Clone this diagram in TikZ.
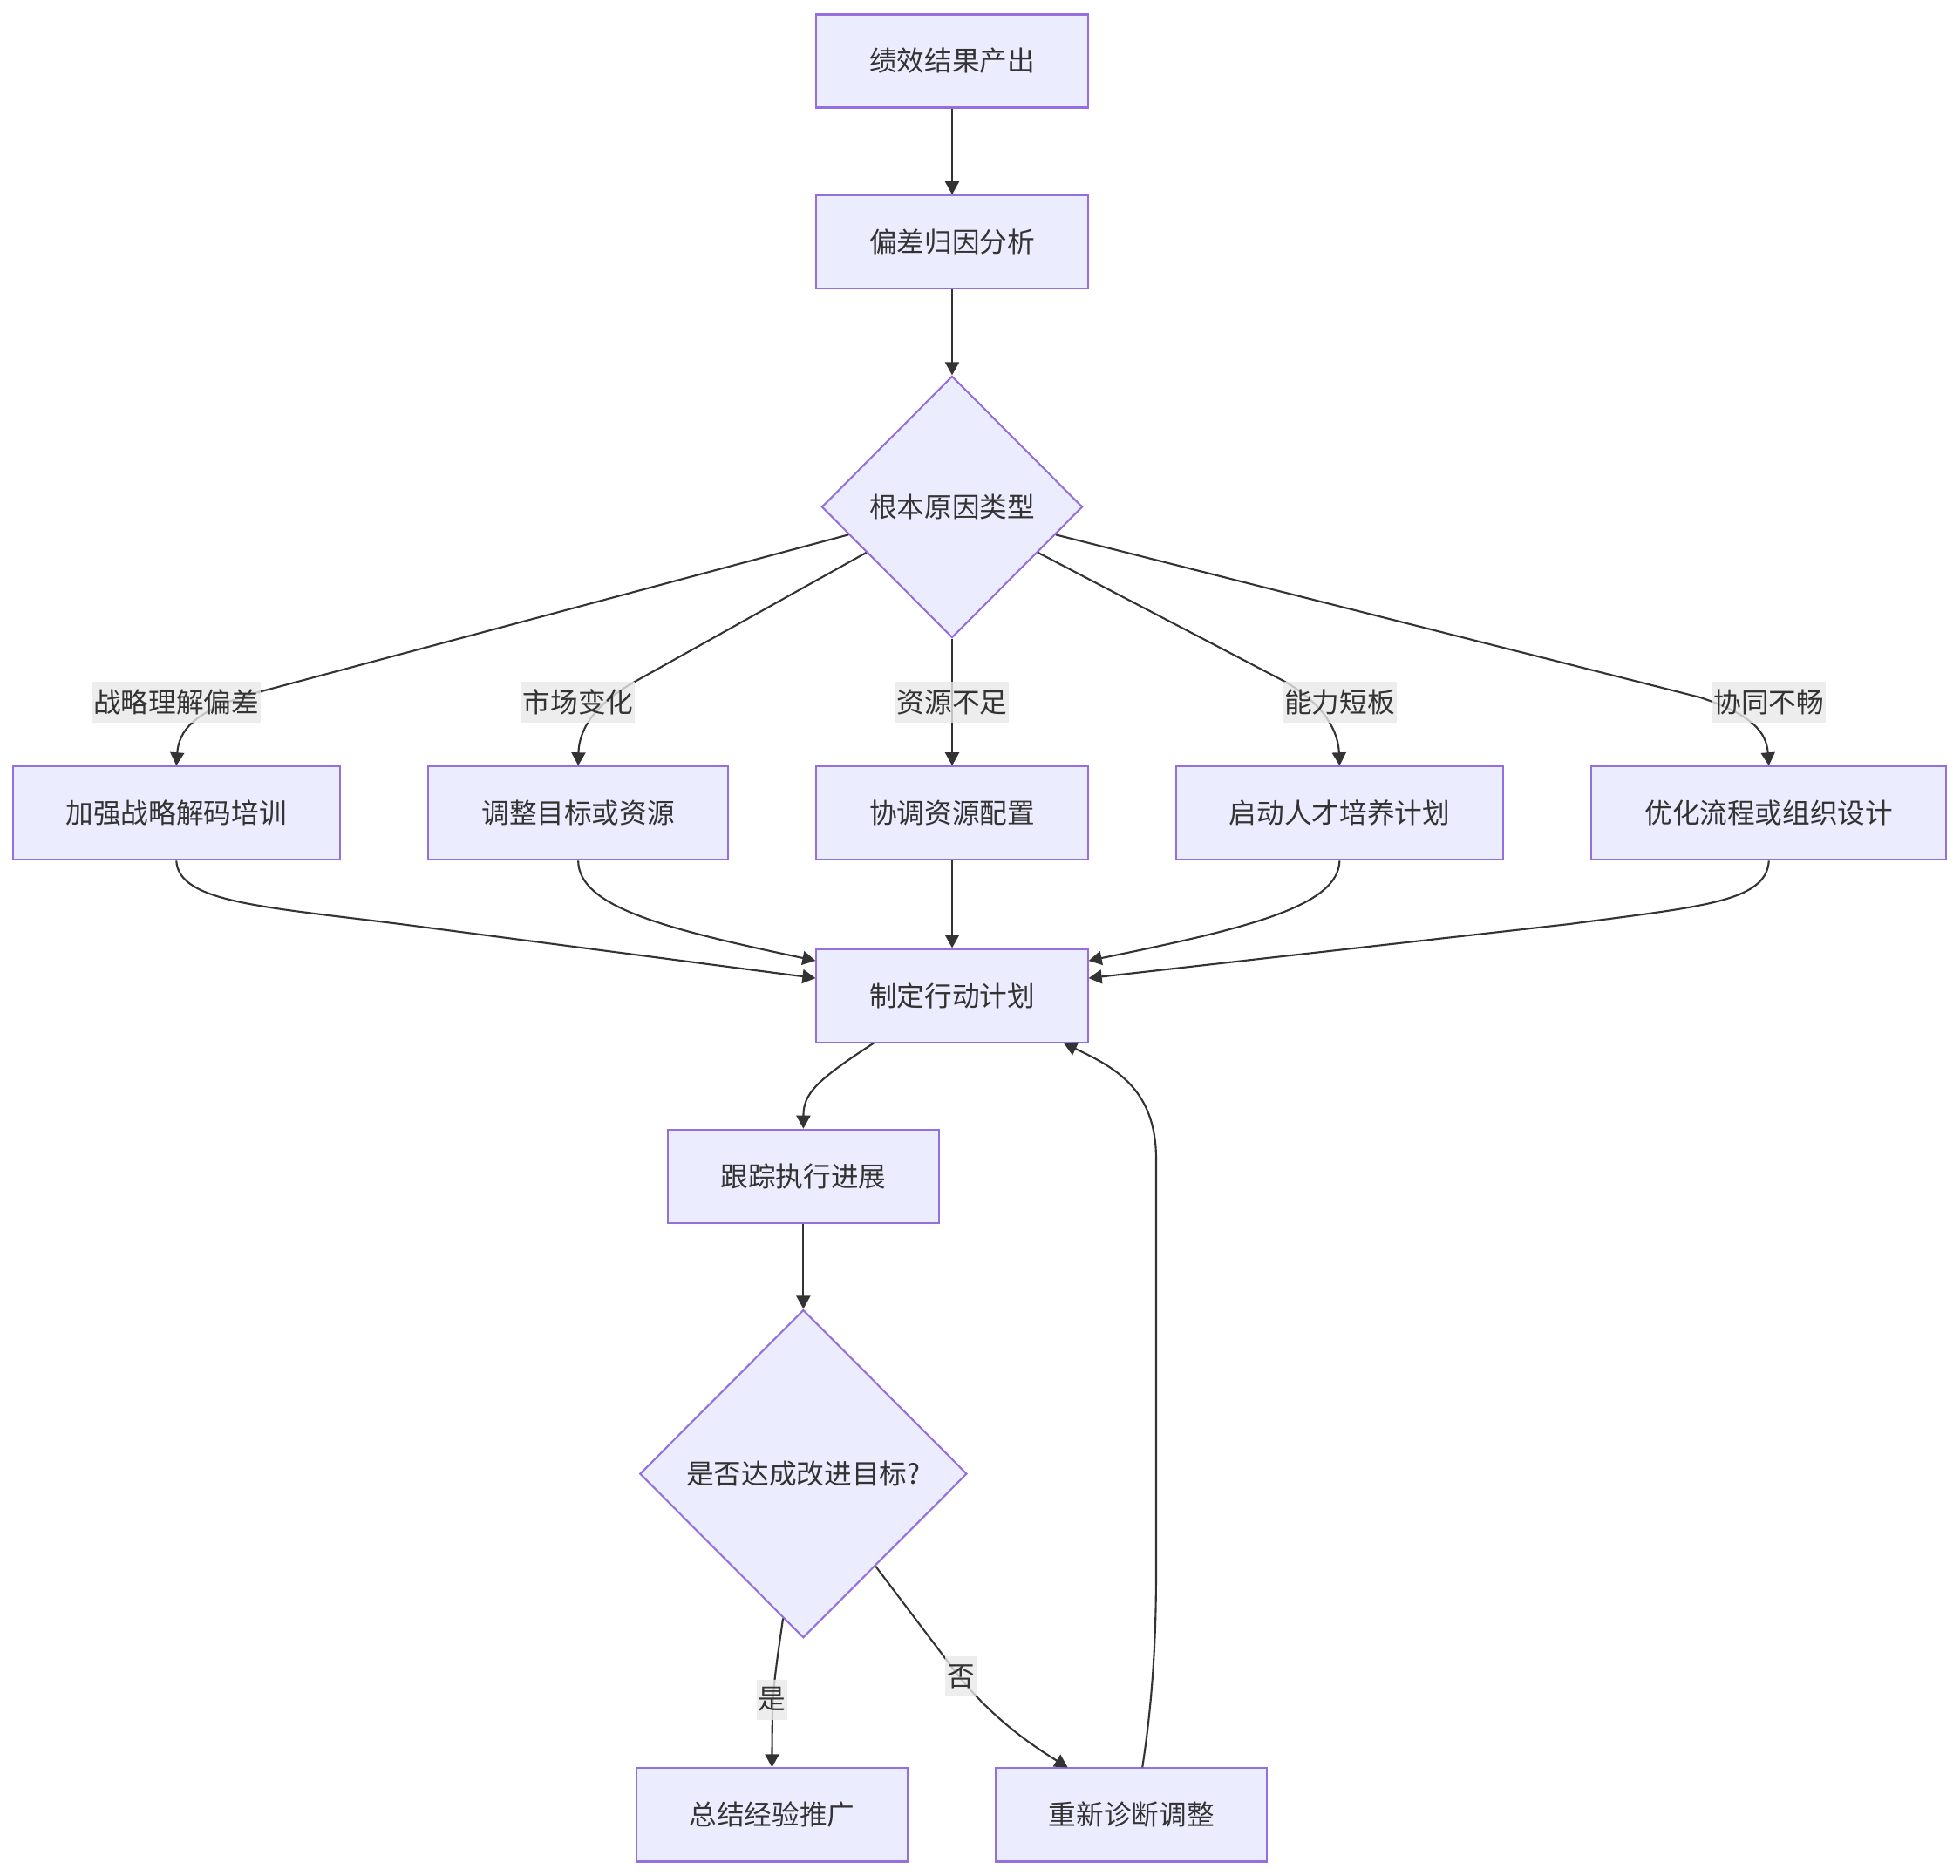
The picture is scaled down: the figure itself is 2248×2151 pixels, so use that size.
\documentclass[tikz,border=0pt]{standalone}
\usepackage{fontspec}
\setmainfont{Noto Sans CJK SC}
\usepackage{xcolor}
\usepackage{tikz}
\usetikzlibrary{shapes.geometric,arrows.meta,positioning}

\definecolor{boxfill}{HTML}{ECECFF}
\definecolor{boxline}{HTML}{9370DB}
\definecolor{ink}{HTML}{333333}
\definecolor{lblfill}{HTML}{E8E8E8}

\begin{document}
\begin{tikzpicture}[
    x=0.01cm, y=-0.01cm,
    font=\fontsize{9}{11}\selectfont,
    node distance=0.99cm,
    box/.style={rectangle, draw=boxline, fill=boxfill, line width=0.6pt, text=ink, minimum width=3.11cm, minimum height=1.07cm, inner sep=0pt},
    decision/.style={diamond, draw=boxline, fill=boxfill, line width=0.6pt, text=ink, inner sep=0pt},
    lbl/.style={fill=lblfill, fill opacity=0.8, text opacity=1, text=ink, inner xsep=0.02cm, inner ysep=0pt, minimum height=0.46cm},
    arrow/.style={draw=ink, line width=0.6pt, -{Triangle[length=0.15cm, width=0.16cm]}}
]
\useasboundingbox (0,0) rectangle (2248,2151);

\node [box] (perf) at (1092,70) {绩效结果产出};
\node [box, below=0.985cm of perf] (attr) {偏差归因分析};
\node [decision, minimum width=2.99cm, minimum height=3cm, below=0.98cm of attr] (cause) {根本原因类型};
\node [box, below=1.455cm of cause] (coord) {协调资源配置};
\node [box, minimum width=3.44cm, left=of coord] (adjust) {调整目标或资源};
\node [box, minimum width=3.75cm, left=of adjust] (train) {加强战略解码培训};
\node [box, minimum width=3.75cm, right=of coord] (talent) {启动人才培养计划};
\node [box, minimum width=4.07cm, right=of talent] (process) {优化流程或组织设计};
\node [box, below=1cm of coord] (plan) {制定行动计划};
\node [box, below=0.98cm of plan, xshift=-1.705cm] (track) {跟踪执行进展};
\node [decision, minimum width=3.75cm, minimum height=3.76cm, below=0.975cm of track] (check) {是否达成改进目标?};
\node [box, below=1.475cm of check, xshift=-0.36cm] (summary) {总结经验推广};
\node [box, right=of summary] (rediag) {重新诊断调整};

\draw [arrow] (perf) -- (attr);
\draw [arrow] (attr) -- (cause);
\draw [arrow] (cause.195) -- (300,793) .. controls (220,814) and (205,840) .. (train.north);
\draw [arrow] (cause.208) -- (728,782) .. controls (678,810) and (664,840) .. (adjust.north);
\draw [arrow] (cause) -- (coord);
\draw [arrow] (cause.332) -- (1472,781) .. controls (1520,808) and (1535,840) .. (talent.north);
\draw [arrow] (cause.345) -- (1950,800) .. controls (2010,820) and (2026,840) .. (process.north);

\draw [arrow] (train.south) .. controls (205,1035) and (300,1040) .. (459,1060) -- ([yshift=0.2cm]plan.west);
\draw [arrow] (adjust.south) .. controls (664,1040) and (760,1065) .. ([yshift=0.4cm]plan.west);
\draw [arrow] (coord) -- (plan);
\draw [arrow] (talent.south) .. controls (1535,1040) and (1430,1065) .. ([yshift=0.4cm]plan.east);
\draw [arrow] (process.south) .. controls (2026,1035) and (1950,1040) .. (1800,1060) -- ([yshift=0.2cm]plan.east);

\draw [arrow] ([xshift=-0.9cm]plan.south) .. controls (935,1240) and (921.5,1255) .. (track.north);
\draw [arrow] (track) -- (check);
\draw [arrow] (check.262) .. controls (886,1940) .. (summary.north);
\draw [arrow] (check.308) -- (1090,1910) .. controls (1130,1965) and (1180,2000) .. ([xshift=-0.73cm]rediag.north);
\draw [arrow] ([xshift=0.125cm]rediag.north) .. controls (1322,1950) and (1326,1880) .. (1326,1800) -- (1326,1330) .. controls (1326,1250) and (1280,1225) .. ([xshift=1.28cm]plan.south);

% edge labels
\node [lbl, above=0.49cm of train] (lstrat) {战略理解偏差};
\node [lbl, above=0.49cm of adjust] (lmarket) {市场变化};
\node [lbl, above=0.49cm of coord] (lres) {资源不足};
\node [lbl, above=0.49cm of talent] (lskill) {能力短板};
\node [lbl, above=0.49cm of process] (lcollab) {协同不畅};
\node [lbl, above=0.54cm of summary] (lyes) {是};
\node [lbl] (lno) at (1102,1923) {否};

\end{tikzpicture}
\end{document}
